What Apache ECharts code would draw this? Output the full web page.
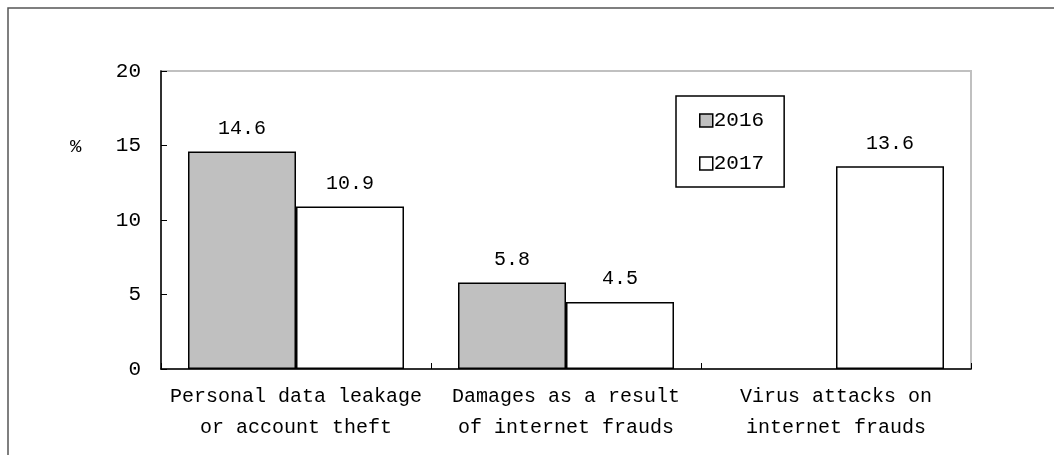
<!DOCTYPE html>
<html>
<head>
<meta charset="utf-8">
<script src="https://cdn.jsdelivr.net/npm/echarts@6/dist/echarts.min.js"></script>
<style>
html, body { margin: 0; padding: 0; background: #fff; }
#main { width: 1054px; height: 455px; }
</style>
</head>
<body>
<div id="main"></div>
<script>
var categories = ['Personal data leakage\nor account theft', 'Damages as a result\nof internet frauds', 'Virus attacks on\ninternet frauds'];
var values2016 = [14.6, 5.8, '-'];
var values2017 = [10.9, 4.5, 13.6];
var yTicks = [0, 5, 10, 15, 20];

var font = 'Liberation Mono';
var myChart = echarts.init(document.getElementById('main'));

var labelStyle = {
	show: true,
	position: 'top',
	distance: 13,
	color: '#000',
	fontFamily: font,
	fontSize: 20,
	formatter: function (p) {
		return p.value.toFixed(1);
	}
};

var option = {
	animation: false,
	backgroundColor: '#fff',
	textStyle: { fontFamily: font, color: '#000' },
	graphic: [
		{
			type: 'rect',
			z: -10,
			shape: { x: 8, y: 8, width: 1200, height: 600 },
			style: { fill: 'none', stroke: '#555', lineWidth: 1.5 }
		},
		{
			type: 'text',
			left: 70,
			top: 137,
			style: { text: '%', font: '19px "Liberation Mono"', fill: '#000' }
		}
	],
	grid: {
		left: 161,
		top: 71,
		right: 83,
		bottom: 86,
		show: true,
		borderColor: '#c0c0c0',
		borderWidth: 2
	},
	legend: {
		orient: 'vertical',
		left: 676,
		top: 96,
		padding: [14, 20, 13, 23],
		itemGap: 22,
		itemWidth: 13,
		itemHeight: 13,
		itemStyle: { borderColor: '#000', borderWidth: 1.5 },
		borderColor: '#000',
		borderWidth: 1.5,
		borderRadius: 0,
		icon: 'rect',
		textStyle: { fontFamily: font, fontSize: 21, color: '#000', padding: [0, 0, 0, -4] },
		data: ['2016', '2017']
	},
	xAxis: {
		type: 'category',
		data: categories,
		axisLine: { lineStyle: { color: '#000', width: 1.5 } },
		axisTick: { show: true, inside: true, length: 6, interval: 0, lineStyle: { color: '#000' } },
		axisLabel: { interval: 0, fontFamily: font, fontSize: 20, color: '#000', lineHeight: 31, margin: 12 }
	},
	yAxis: {
		type: 'value',
		min: 0,
		max: 20,
		interval: 5,
		splitLine: { show: false },
		axisLine: { show: true, lineStyle: { color: '#000', width: 1.5 } },
		axisTick: { show: true, inside: true, length: 6, lineStyle: { color: '#000' } },
		axisLabel: {
			fontFamily: font,
			fontSize: 21,
			color: '#000',
			margin: 20,
			formatter: function (v) {
				return yTicks.indexOf(v) >= 0 ? String(v) : '';
			}
		}
	},
	series: [
		{
			name: '2016',
			type: 'bar',
			data: values2016,
			barWidth: '40%',
			barGap: '0%',
			itemStyle: { color: '#c0c0c0', borderColor: '#000', borderWidth: 1.5 },
			label: labelStyle
		},
		{
			name: '2017',
			type: 'bar',
			data: values2017,
			barWidth: '40%',
			barGap: '0%',
			itemStyle: { color: '#fff', borderColor: '#000', borderWidth: 1.5 },
			label: labelStyle
		}
	]
};

myChart.setOption(option);
</script>
</body>
</html>
